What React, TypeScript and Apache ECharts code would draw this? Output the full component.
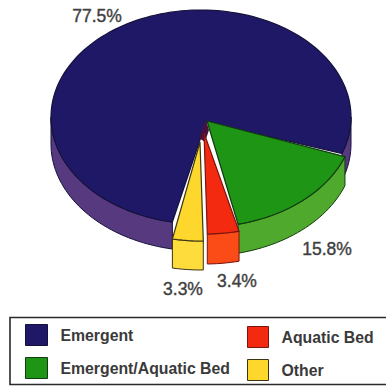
import React, { useEffect, useRef } from "react";
import * as echarts from "echarts";

// Wetland class shares, in percent
const categories = ["Emergent/Aquatic Bed", "Aquatic Bed", "Other", "Emergent"];
const shares = [15.8, 3.4, 3.3, 77.5];
const topColors = ["#1f9516", "#f42a10", "#fdd72c", "#1f1867"];
const sideColors = ["#4fa92c", "#fb4b16", "#fedc3c", "#57397f"];
const edgeColors = ["#123c10", "#7a1510", "#3c3414", "#14123c"];

const RX = 150;
const RY = 107;
const START_DEG = 20;

// Per-slice placement of the disc: arc centre, wedge tip, wall height and label anchor
const placement = [
  { cx: 204, cy: 120, tipX: 207, tipY: 121, depth: 29, lx: 327, ly: 249 },
  { cx: 205, cy: 127, tipX: 204, tipY: 133, depth: 30, lx: 237, ly: 281 },
  { cx: 201, cy: 134, tipX: 200, tipY: 142, depth: 29, lx: 183, ly: 289 },
  { cx: 201, cy: 117, tipX: 206, tipY: 122, depth: 27, lx: 97, ly: 16 },
];

const rad = (d: number) => (d * Math.PI) / 180;

function arcPoints(cx: number, cy: number, from: number, to: number) {
  const pts: number[][] = [];
  const steps = Math.max(2, Math.ceil((to - from) / 2));
  for (let i = 0; i <= steps; i++) {
    const a = rad(from + ((to - from) * i) / steps);
    pts.push([cx + RX * Math.cos(a), cy + RY * Math.sin(a)]);
  }
  return pts;
}

// Parts of an angular span that face the viewer (lower half of the ellipse)
function frontSpans(from: number, to: number) {
  const spans: number[][] = [];
  for (let k = 0; k < 3; k++) {
    const lo = Math.max(from, k * 360);
    const hi = Math.min(to, k * 360 + 180);
    if (hi > lo) spans.push([lo, hi]);
  }
  return spans;
}

function sliceSpan(index: number) {
  const total = shares.reduce((s, v) => s + v, 0);
  const before = shares.slice(0, index).reduce((s, v) => s + v, 0);
  return [START_DEG + (before / total) * 360, START_DEG + ((before + shares[index]) / total) * 360];
}

function renderSlice(index: number) {
  const p = placement[index];
  const [from, to] = sliceSpan(index);
  const children: any[] = [];
  for (const [a, b] of frontSpans(from, to)) {
    const upper = arcPoints(p.cx, p.cy, a, b);
    const lower = upper.map(([x, y]) => [x, y + p.depth]).reverse();
    children.push({
      type: "polygon",
      shape: { points: [...upper, ...lower] },
      style: { fill: sideColors[index], stroke: edgeColors[index], lineWidth: 1 },
    });
  }
  if (index === 1) {
    // dark inner wall showing behind the pulled-out red wedge
    children.push({
      type: "polygon",
      shape: { points: [[199, 138], [206, 120], [209, 130], [205, 142]] },
      style: { fill: "#47103f" },
    });
  }
  children.push({
    type: "polygon",
    shape: { points: [[p.tipX, p.tipY], ...arcPoints(p.cx, p.cy, from, to)] },
    style: { fill: topColors[index], stroke: edgeColors[index], lineWidth: 1.2 },
  });
  children.push({
    type: "text",
    style: {
      x: p.lx,
      y: p.ly,
      text: `${shares[index]}%`,
      fill: "#3f3f3f",
      stroke: "#3f3f3f",
      lineWidth: 0.4,
      font: "17.5px 'Liberation Sans', Arial, sans-serif",
      align: "center",
      verticalAlign: "middle",
    },
  });
  return { type: "group", children };
}

const legendText = {
  color: "#3a3a3a",
  fontFamily: "'Liberation Sans', Arial, sans-serif",
  fontWeight: "bold" as const,
  fontSize: 15.8,
};

function legendEntry(name: string) {
  const i = categories.indexOf(name);
  return { name, itemStyle: { color: topColors[i], borderColor: edgeColors[i], borderWidth: 1 } };
}

export default function App() {
  const ref = useRef<HTMLDivElement>(null);
  useEffect(() => {
    document.body.style.margin = "0";
    const chart = echarts.init(ref.current!, null, { renderer: "svg" });
    // back-to-front drawing order: the large slice sits behind the wedges
    const order = [3, 0, 1, 2];
    chart.setOption({
      animation: false,
      backgroundColor: "#ffffff",
      legend: [
        {
          orient: "vertical",
          left: 25,
          top: 324,
          itemWidth: 22,
          itemHeight: 21,
          itemGap: 11,
          padding: 0,
          textStyle: { ...legendText, padding: [0, 0, 0, 8] },
          selectedMode: false,
          icon: "rect",
          data: [legendEntry("Emergent"), legendEntry("Emergent/Aquatic Bed")],
        },
        {
          orient: "vertical",
          left: 247,
          top: 326,
          itemWidth: 21,
          itemHeight: 21,
          itemGap: 11,
          padding: 0,
          textStyle: { ...legendText, padding: [0, 0, 0, 8] },
          selectedMode: false,
          icon: "rect",
          data: [legendEntry("Aquatic Bed"), legendEntry("Other")],
        },
      ],
      graphic: [
        {
          type: "rect",
          silent: true,
          shape: { x: 10, y: 317.5, width: 400, height: 67 },
          style: { fill: "none", stroke: "#2a2a2a", lineWidth: 1.6 },
        },
      ],
      series: order.map((i) => ({
        type: "custom",
        name: categories[i],
        coordinateSystem: "none",
        silent: true,
        itemStyle: { color: topColors[i] },
        data: [shares[i]],
        renderItem: () => renderSlice(i),
      })),
    });
    return () => chart.dispose();
  }, []);
  return <div ref={ref} style={{ width: 386, height: 388 }} />;
}
